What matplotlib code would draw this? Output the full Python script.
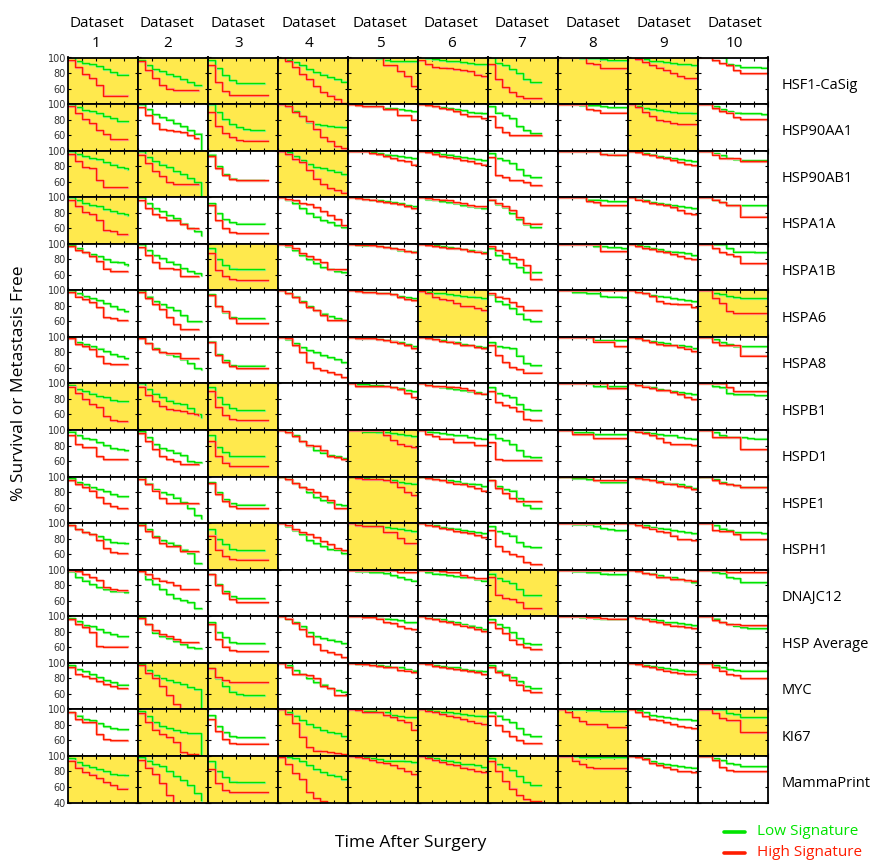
import numpy as np
import matplotlib
matplotlib.use('Agg')
import matplotlib.pyplot as plt
from matplotlib import transforms
from matplotlib.lines import Line2D

plt.rcParams['font.family'] = ['Open Sans', 'DejaVu Sans']

datasets = ['1', '2', '3', '4', '5', '6', '7', '8', '9', '10']
genes = ['HSF1-CaSig', 'HSP90AA1', 'HSP90AB1', 'HSPA1A', 'HSPA1B', 'HSPA6', 'HSPA8',
         'HSPB1', 'HSPD1', 'HSPE1', 'HSPH1', 'DNAJC12', 'HSP Average', 'MYC', 'KI67',
         'MammaPrint']

# follow-up length of each dataset (panel x runs 0..10)
end_low = [8.5, 9.0, 8.0, 10, 10, 10, 7.5, 10, 10, 10]
end_high = [8.4, 8.6, 8.5, 10, 10, 10, 7.6, 10, 10, 10]

# significant panels (yellow), one string per gene row
yellow = ['1111111110', '1011000010', '1101000000', '1000000000', '0010000000',
          '0000010001', '0000000000', '1110000000', '0010100000', '0000100000',
          '0010100000', '0000001000', '0000000000', '0110000000', '0101110101',
          '1111111100']

# % survival per unit of time, low signature (green) / high signature (red)
# trailing 'x' = curve stops there
hsf1_low = ["100 96 93 91 89 85 81 78 78", "97 90 85 82 79 76 72 68 65 64", "97 86 77 71 67 67 67 67",
            "100 97 94 90 85 81 78 75 72 69 67", "100 100 100 100 99 97 96 96 96 96",
            "100 99 98 97 96 95 94 93 92 91 90", "100 93 90 85 80 72 68 68",
            "100 100 100 99 99 99 98 97 97 97", "100 99 98 96 95 94 93 92 91 90 89",
            "100 100 100 100 91 90 88 88 88 87"]
hsf1_high = ["97 88 79 74 65 51 51 51 51", "95 84 73 64 60 58 58 58 58", "90 68 57 52 52 52 52 52 52",
             "100 96 88 79 72 63 55 51 46 41", "100 100 100 100 100 90 90 82 76 63",
             "97 91 88 87 86 85 84 82 78 76", "92 72 62 55 50 48 48 48",
             "100 100 100 100 93 91 86 86 86 86", "100 98 94 90 87 84 80 76 74 74 69",
             "100 100 97 93 90 84 80 80 80 80"]

hsp90aa1_low = ["100 96 92 91 88 84 82 78 78", "100 93 87 83 80 76 72 67 62 40", "100 90 81 74 70 68 66 66",
                "100 97 91 85 77 74 73 72 71 70 66", "100 99 98 98 97 95 95 93 92 91 90",
                "100 99 98 96 95 93 92 90 89 88 87", "97 89 86 82 72 66 63 63",
                "100 100 100 99 99 99 98 96 96 96", "100 97 95 93 92 91 90 89 89 88 87",
                "100 100 97 93 91 89 88 88 88 87"]
hsp90aa1_high = ["97 88 81 75 67 61 55 55 55", "96 86 76 68 66 65 64 60 56", "90 72 63 57 54 53 53 53 53",
                 "100 97 90 84 78 68 58 52 46 43 41", "100 99 97 97 97 94 93 86 86 80",
                 "100 99 97 95 93 91 87 85 84 82 81", "85 70 64 60 60 60 60 60",
                 "100 100 100 100 93 92 89 89 89 89", "100 96 90 84 79 78 75 74 74 74 67",
                 "100 100 95 91 89 83 81 81 81 81"]

hsp90ab1_low = ["100 96 93 91 89 85 82 79 77 76", "100 92 87 82 79 74 70 65 60 43", "95 80 70 64 62 62 62 62",
                "100 98 93 88 83 79 77 75 73 70 64", "100 100 99 98 97 95 94 93 92 90 88",
                "100 99 98 96 95 93 92 90 89 88 87", "97 90 88 84 76 68 66 66",
                "100 100 100 100 100 100 96 96 95 95 94", "100 99 97 95 93 92 90 89 88 87 85",
                "100 100 97 94 91 89 88 88 88 88"]
hsp90ab1_high = ["96 86 79 77 62 53 53 53 53", "95 84 74 67 60 57 57 57 57", "93 78 68 63 62 62 62 62 62",
                 "100 96 89 85 75 64 57 52 49 46 43", "100 100 99 97 96 93 91 88 86 82 79",
                 "100 98 96 93 92 90 88 86 84 82 81", "92 68 66 62 62 60 56 56",
                 "100 100 100 100 100 100 96 95 95 95", "100 98 96 94 92 90 88 85 83 81 78",
                 "100 100 95 90 90 90 86 86 86 86"]

hspa1a_low = ["100 96 93 90 88 85 82 79 78 77", "100 92 86 82 77 73 66 60 56 51", "93 80 72 68 66 66 66 66",
              "100 97 92 86 80 75 71 68 64 62 60", "100 99 98 97 96 95 94 92 90 88 86",
              "100 98 97 95 94 92 90 89 87 86 84", "97 91 87 80 72 65 62 62",
              "100 100 100 100 97 97 96 95 95 95 94", "100 98 96 94 93 91 90 89 87 86 84",
              "100 100 97 94 90 90 90 90 90 90"]
hspa1a_high = ["96 88 81 78 70 58 56 53 53", "96 86 78 74 71 71 65 60 60", "90 70 60 55 54 54 54 54 54",
               "100 98 96 92 91 87 82 77 72 64 58", "100 99 98 97 95 94 93 91 88 86 84",
               "100 99 98 97 96 94 92 90 89 88 87", "97 92 88 84 74 67 66 66",
               "100 100 100 100 95 94 90 90 90 90", "100 97 95 93 91 90 87 84 80 78 78",
               "100 100 97 94 90 90 75 75 75 75"]

hspa1b_low = ["99 94 89 87 84 80 77 76 74 73", "100 92 86 81 77 74 69 65 62 60", "95 80 73 68 67 67 67 67",
              "100 97 92 86 80 75 70 67 65 63 59", "100 99 98 98 97 96 94 92 91 90 88",
              "100 99 98 97 96 95 93 92 91 89 87", "95 86 80 75 70 64 64 64",
              "100 100 100 100 100 97 97 96 96 95 95", "100 98 97 95 93 91 90 89 88 86 84",
              "100 100 100 100 94 90 90 90 89 89"]
hspa1b_high = ["97 92 89 84 78 68 65 65 65", "96 86 76 69 69 67 58 58 58", "88 66 58 54 53 53 53 53 53",
               "100 98 94 88 84 80 76 67 67 67 63", "100 99 99 98 97 96 95 93 91 89 86",
               "100 98 97 96 95 94 93 91 90 88 87", "97 92 88 83 80 72 55 55",
               "100 100 100 100 100 100 91 91 91 91", "100 97 95 93 91 89 87 84 81 80 79",
               "100 100 95 89 87 84 75 75 75 75"]

hspa6_low = ["100 96 93 90 87 84 80 76 73 73", "100 92 86 82 79 74 68 60 60 60", "95 80 72 66 64 64 64 64",
             "100 97 92 86 80 74 70 67 64 62 58", "100 99 98 98 97 96 95 93 91 90 88",
             "100 98 97 96 95 94 93 92 91 90 89", "95 86 82 77 70 63 60 60",
             "100 100 98 98 97 96 93 92 92 91 91", "100 98 96 94 93 92 90 89 88 86 85",
             "100 100 97 95 93 91 90 90 90 90"]
hspa6_high = ["98 92 89 85 78 66 64 62 62", "98 90 82 76 66 56 50 50 50", "94 80 73 64 58 58 58 58",
              "100 97 91 85 79 74 68 62 62 62 62", "100 99 98 98 97 96 95 91 89 88 86",
              "99 96 91 89 88 84 80 80 77 75 75", "97 92 90 85 80 74 74 74",
              "100", "100 98 96 93 86 84 83 82 82 79 78",
              "100 100 90 84 73 71 71 71 71 71"]

hspa8_low = ["100 93 91 88 85 82 78 75 73 73", "100 92 86 81 78 75 71 66 60 58", "94 78 70 64 63 63 63 63",
             "100 97 92 87 83 80 77 74 71 68 64", "100 99 99 98 97 96 95 93 91 88 86",
             "100 98 97 96 94 93 91 90 88 87 86", "93 88 87 86 76 66 64 64",
             "100 100 100 100 100 96 96 96 96 96", "100 98 96 95 93 92 90 89 88 86 84",
             "100 100 97 93 91 88 88 88 88 88"]
hspa8_high = ["98 91 88 84 75 66 65 65 65", "98 92 84 80 79 79 73 73 73", "93 77 68 62 60 60 60 60 60",
              "100 98 90 80 68 60 57 55 52 48 46", "100 99 99 98 97 96 94 92 89 86 84",
              "100 99 97 95 94 92 90 89 87 86 85", "90 77 68 61 58 54 54 54",
              "100 100 100 100 100 94 94 94 88 88", "100 98 96 93 91 90 89 87 85 82 81",
              "100 100 93 90 90 90 76 76 76 76"]

hspb1_low = ["98 93 90 87 84 82 79 77 77", "100 93 87 82 78 75 73 68 60 57", "95 83 74 68 66 66 66 66",
             None, "100 99 99 98 98 97 95 94 92 90 89",
             "100 98 97 95 94 93 91 90 89 87 86", "95 88 85 82 74 67 66 66",
             "100 100 100 100 100 97 97 97 97 97", "100 98 97 95 93 92 90 89 88 86 84",
             "100 100 97 95 88 86 86 86 85 85 84"]
hspb1_high = ["96 88 80 73 70 58 53 51 51", "96 85 77 71 67 66 64 62 60 59", "90 70 59 54 53 53 53 53 53",
              None, "100 97 97 97 97 97 95 93 88 82 81",
              "100 98 97 97 96 95 94 92 88 87 87", "90 76 72 70 64 54 53 53",
              "100 100 100 100 100 100 100 94 94 94", "100 98 96 94 92 91 89 86 82 80 78",
              "100 100 100 100 95 90 90 90 90 90"]

hspd1_low = ["98 93 90 88 85 81 77 75 74 74", "99 91 82 77 74 71 68 60 59 59", "93 78 72 67 66 66 66 66",
             "100 97 93 86 80 74 71 68 66 64 61", "100 100 98 98 97 97 96 95 93 92 91",
             "100 98 97 96 95 94 93 91 90 89 87", "95 90 87 82 74 67 65 65",
             "100 100 97 97 97 95 95 95 95 95", "100 98 97 96 95 94 93 91 90 89 87",
             "100 100 97 93 91 91 91 90 89 89"]
hspd1_high = ["93 82 78 78 66 63 63 63 63", "96 86 76 67 63 60 56 56 56", "86 66 58 54 53 53 53 53 53",
              "100 97 92 86 81 80 74 66 65 63 59", "100 100 100 100 100 93 87 82 80 78 78",
              "100 95 92 89 89 84 84 84 81 81", "85 62 61 61 61 61 61 61",
              "100 100 95 95 95 90 90 90 90 90", "100 98 96 93 90 85 82 82 82 81 74",
              "100 100 91 91 91 91 76 76 76 76"]

hspe1_low = ["98 93 90 87 84 81 77 75 75", "100 91 84 80 77 73 67 60 50 47", "93 80 71 66 64 64 64 64",
             "100 97 92 86 80 74 70 67 65 63 60", "100 100 98 97 97 96 95 93 92 91 90",
             "100 98 97 96 95 94 92 91 90 88 87", "96 88 84 82 72 63 60 60",
             "100 100 98 98 97 96 93 93 93 93", "100 98 97 96 94 92 91 90 88 85 82",
             "100 100 97 93 90 89 87 87 87 87"]
hspe1_high = ["95 90 86 82 74 66 62 60 60", "97 90 82 72 66 66 66 66 66", "92 78 68 62 60 60 60 60 60",
              "100 97 92 87 84 80 75 70 60 59 59", "100 98 97 97 97 95 93 86 80 76 75",
              "100 98 97 95 93 91 90 88 85 82 81", "95 85 79 72 69 69 69 69",
              "100 100 100 100 100 95 95 95 95 95", "100 98 97 95 93 91 90 88 86 84 82",
              "100 100 95 92 90 89 86 86 86 86"]

hsph1_low = ["98 92 89 86 83 79 76 75 74 74", "100 92 83 78 75 72 66 62 49 48", "92 79 73 67 65 65 65 65",
             "100 96 91 86 78 74 70 67 66 62 60", "100 97 96 96 96 95 94 93 91 90 89",
             "100 98 97 95 94 93 91 90 89 87 86", "96 90 87 84 76 70 69 69",
             "100 100 99 99 99 96 94 92 91 91", "100 98 97 95 94 93 91 90 89 87 85",
             "100 100 97 93 91 89 88 88 88 87"]
hsph1_high = ["97 92 88 86 78 68 63 62 62", "97 90 82 74 71 71 64 64 64", "84 66 58 54 53 53 53 53 53",
              "100 98 92 88 86 82 77 73 68 65 60", "100 97 96 96 96 88 88 81 74 74",
              "100 98 96 94 92 90 89 87 85 82 81", "91 70 64 60 58 50 47 47",
              "100", "100 98 95 93 90 88 84 80 79 78 76",
              "100 100 91 90 90 86 80 80 80 80"]

dnajc12_low = ["98 90 86 82 78 75 73 72 71", "98 88 81 75 69 64 61 58 51 51", "94 82 72 66 64 64 64 64",
               None, "99 98 98 97 97 96 93 90 88 86 84",
               "100 97 95 94 93 92 91 90 88 86 84", "95 89 86 83 75 67 67 67",
               "100 100 98 98 97 97 95 94 94 94", "100 98 96 95 93 91 90 88 86 84 82",
               "100 100 97 96 91 89 84 84 84 84"]
dnajc12_high = ["100 98 94 91 87 78 75 74 74", "98 94 89 86 84 80 75 75 75", "94 80 70 62 58 58 58 58",
                None, "100 100 100 100 100 100 100 97 97 97",
                "100 99 99 98 97 97 93 90 89 89 88", "90 68 63 62 58 50 50 50",
                "100", "100 98 96 94 91 90 88 88 87 86 86",
                "100 100 100 100 97 97 97 97 97 97"]

hsp_avg_low = ["98 94 89 87 84 80 77 75 74 74", "99 90 79 75 72 68 64 60 59 59", "92 80 73 67 65 65 65 65",
               "100 97 93 87 80 75 72 70 68 66 63", "100 100 100 99 98 97 96 95 93 92 91",
               "100 98 97 96 94 92 90 88 86 84 82", "96 90 86 80 72 66 64 64",
               "100 100 100 99 99 98 97 97 97 97", "100 98 97 96 95 93 92 91 90 89 88",
               "100 100 97 93 90 88 86 85 85 85"]
hsp_avg_high = ["96 90 86 80 62 61 61 61 61", "98 90 82 77 74 71 67 67 67", "90 71 61 56 55 55 55 55 55",
                "100 97 91 83 74 64 57 54 51 48 46", "100 100 99 99 97 93 91 87 85 84 80",
                "100 98 96 94 92 90 88 86 83 81 79", "93 85 78 70 64 60 58 58",
                "100 100 100 100 99 99 98 97 97 97", "100 98 96 94 92 90 88 87 86 85 83",
                "100 100 95 92 90 90 89 89 89 89"]

myc_low = ["97 92 89 86 82 78 75 72 72", "98 91 84 80 78 75 73 69 66 40", "93 80 70 63 60 59 59 59",
           "100 97 91 86 80 75 72 68 65 63 60", "100 99 98 97 97 96 95 94 92 90 87",
           "100 98 97 96 95 94 92 91 90 89 87", "97 90 86 82 76 70 68 68",
           None, "100 98 97 96 94 93 92 91 90 89 88",
           "100 100 97 94 92 91 90 90 90 90"]
myc_high = ["95 86 83 80 77 73 70 68 68", "97 87 80 70 58 47 41 x", "93 82 78 75 75 75 75 75 75",
            "100 95 86 85 84 80 70 67 58 58 58", "100 99 98 97 96 95 94 91 90 88 85",
            "100 98 96 95 93 92 91 89 88 86 85", "95 88 84 78 72 65 62 62",
            None, "100 98 96 94 92 90 88 87 86 85 84",
            "100 100 95 90 86 84 80 80 80 80"]

ki67_low = ["97 92 88 86 82 79 76 75 75", "98 91 84 79 76 73 71 70 69 43", "93 79 71 66 64 64 64 64",
            "100 97 92 86 81 77 73 71 69 66 64", "100 99 98 98 97 96 93 91 90 90 90",
            "100 99 98 97 96 95 94 93 92 91 90", "97 92 88 84 76 68 66 66",
            "100 100 100 100 99 99 98 98 98 98", "100 99 96 93 91 90 89 88 87 86 85",
            "100 100 100 100 95 94 90 90 90 90"]
ki67_high = ["96 88 84 84 68 62 60 60 60", "95 84 74 68 64 58 45 43 43", "87 72 62 57 56 56 56 56 56",
             "100 94 82 65 52 47 46 45 44 43 43", "100 99 97 96 96 93 90 86 84 74 74",
             "100 98 96 94 92 90 88 85 83 81 80", "92 80 72 66 60 57 57 57",
             "100 97 90 85 81 81 81 77 77 77", "100 97 91 87 86 84 81 78 77 76 73",
             "100 100 95 89 86 86 71 71 71 71"]

mammaprint_low = ["97 92 88 86 83 80 77 76 75 75", "98 94 90 87 80 74 69 62 52 43", "93 81 73 67 66 66 66 66",
                  "100 99 97 93 88 83 79 76 74 70 66", "100 99 98 97 96 94 94 94 93 92 91",
                  "100 98 97 95 94 92 90 89 88 86 85", "97 90 86 82 74 66 62 62",
                  "100 100 100 99 99 98 98 98 98 98", "100 100 97 93 91 90 88 87 86 85 84",
                  "100 100 97 95 91 90 87 87 87 87"]
mammaprint_high = ["94 85 79 76 71 66 62 58 58", "95 85 77 65 50 42 x", "83 65 56 53 53 53 53 53 53",
                   "98 90 78 70 54 46 42 41 x", "100 98 97 95 92 91 88 84 80 77 73",
                   "100 97 95 92 90 88 85 83 81 79 78", "93 80 68 58 50 44 42 42",
                   "100 100 94 90 86 84 84 84 84 84", "100 98 96 91 88 86 83 81 80 79 78",
                   "100 100 95 86 82 80 80 80 80 80"]

low_rows = [hsf1_low, hsp90aa1_low, hsp90ab1_low, hspa1a_low, hspa1b_low, hspa6_low, hspa8_low,
            hspb1_low, hspd1_low, hspe1_low, hsph1_low, dnajc12_low, hsp_avg_low, myc_low,
            ki67_low, mammaprint_low]
high_rows = [hsf1_high, hsp90aa1_high, hsp90ab1_high, hspa1a_high, hspa1b_high, hspa6_high,
             hspa8_high, hspb1_high, hspd1_high, hspe1_high, hsph1_high, dnajc12_high,
             hsp_avg_high, myc_high, ki67_high, mammaprint_high]

GREEN = '#00e400'
RED = '#ff1c00'
YELLOW = '#ffe94d'

W, H = 873, 861


def km_line(ax, s, end, color, halo):
    if s is None:
        return
    tok = s.split()
    stop = tok[-1] == 'x'
    if stop:
        tok = tok[:-1]
    y = [float(v) for v in tok]
    x = list(np.minimum(np.arange(len(y)), end))
    if not stop and x[-1] < end:
        x.append(end)
        y.append(y[-1])
    shifted = transforms.offset_copy(ax.transData, fig=ax.figure, x=0.7, y=-0.9, units='dots')
    ax.step(x, y, where='post', color=halo, lw=1.6, transform=shifted)
    ax.step(x, y, where='post', color=color, lw=1.0)


fig, axes = plt.subplots(16, 10, figsize=(W / 100, H / 100), dpi=100)
fig.subplots_adjust(left=68 / W, right=768 / W, top=1 - 57.5 / H, bottom=1 - 802.5 / H,
                    wspace=0, hspace=0)

for r in range(16):
    for c in range(10):
        ax = axes[r, c]
        ax.set_facecolor(YELLOW if yellow[r][c] == '1' else 'white')
        km_line(ax, low_rows[r][c], end_low[c], GREEN, '#8cf58c')
        km_line(ax, high_rows[r][c], end_high[c], RED, '#ff9a90')
        ax.set_xlim(0, 10)
        ax.set_ylim(40, 100)
        ax.set_xticks([0, 2, 4, 6, 8, 10])
        ax.set_yticks([40, 60, 80, 100])
        ax.tick_params(direction='in', length=2.5, width=0.8, top=True, right=True,
                       labelbottom=False, labelleft=(c == 0), labelsize=7,
                       labelcolor='#333333', pad=1.5)
        if c == 0:
            ax.set_yticklabels(['40' if r == 15 else '', '60', '80', '100'],
                               fontfamily='DejaVu Sans')
        for sp in ax.spines.values():
            sp.set_linewidth(1.3)
            sp.set_color('black')

# column headers
for c in range(10):
    xc = (96.5 + 70.9 * c) / W
    fig.text(xc, 1 - 26.7 / H, 'Dataset', ha='center', va='baseline', fontsize=11)
    fig.text(xc, 1 - 46.7 / H, datasets[c], ha='center', va='baseline', fontsize=11)

# row labels
for r in range(16):
    yc = 57.5 + 46.56 * (r + 0.5) + 8
    fig.text(782 / W, 1 - yc / H, genes[r], ha='left', va='baseline', fontsize=10.5)

fig.text(19 / W, 1 - 383 / H, '% Survival or Metastasis Free', rotation=90,
         ha='center', va='center', fontsize=12.5)
fig.text(411 / W, 1 - 843 / H, 'Time After Surgery', ha='center', va='center', fontsize=12.5)

# legend
for yy, col, lab in [(831.5, GREEN, 'Low Signature'), (852.5, RED, 'High Signature')]:
    fig.add_artist(Line2D([724 / W, 745 / W], [1 - yy / H, 1 - yy / H], color=col, lw=2.6,
                          solid_capstyle='round'))
    fig.text(757 / W, 1 - yy / H, lab, ha='left', va='center', fontsize=11, color=col)

plt.savefig('out.png', dpi=100)
plt.close()
